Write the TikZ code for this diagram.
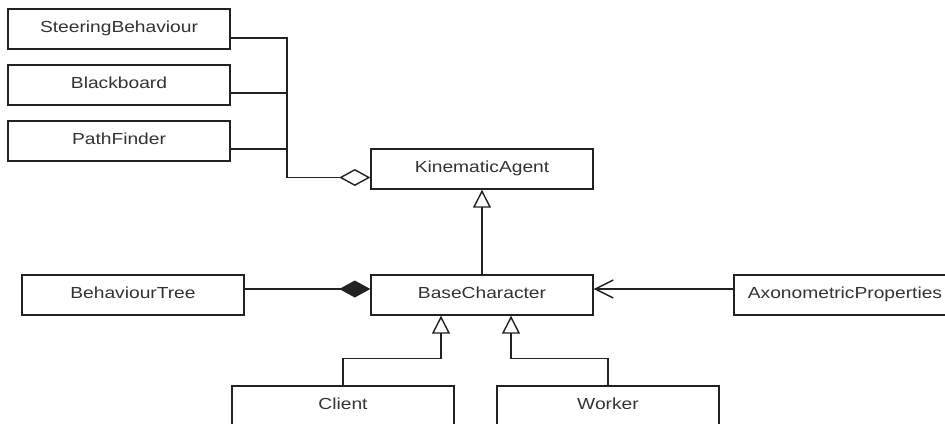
\documentclass[tikz,border=0pt]{standalone}
\usepackage{fontspec}
\setmainfont{Liberation Sans}[FakeStretch=1.2]
\usetikzlibrary{arrows.meta}
\definecolor{umlline}{HTML}{222222}
\definecolor{umltext}{HTML}{333333}
\tikzset{
  cls/.style={draw=umlline, line width=1.4pt, fill=white, rectangle,
    minimum width=222pt, minimum height=40pt, inner sep=0pt,
    text height=10pt, text depth=4pt, text=umltext,
    font=\fontsize{16pt}{18pt}\selectfont},
  conn/.style={draw=umlline, line width=1.4pt},
  aggr/.style={conn, -{Diamond[open, length=31pt, width=17pt, line width=1.4pt]}},
  comp/.style={conn, -{Diamond[length=31pt, width=17pt]}},
  gen/.style={conn, -{Triangle[open, length=18pt, width=18pt, line width=1.4pt]}},
  nav/.style={conn, -{Straight Barb[length=18pt, width=18pt, line width=1.4pt]}}
}
\begin{document}
\begin{tikzpicture}[x=1pt, y=-1pt]
  \useasboundingbox (0,0) rectangle (945,423);
  \clip (0,0) rectangle (945,423);
  \fill[white] (0,0) rectangle (945,423);

  % classes
  \node[cls] (sb) at (119,29)  {SteeringBehaviour};
  \node[cls] (bb) at (119,85)  {Blackboard};
  \node[cls] (pf) at (119,141) {PathFinder};
  \node[cls] (ka) at (482,169) {KinematicAgent};
  \node[cls] (bt) at (133,295) {BehaviourTree};
  \node[cls] (bc) at (482,295) {BaseCharacter};
  \node[cls] (ax) at (845,295) {AxonometricProperties};
  \node[cls] (cl) at (343,406) {Client};
  \node[cls] (wk) at (608,406) {Worker};

  % aggregation bus into KinematicAgent
  \coordinate (bus) at (287,177.5);
  \draw[conn] ([yshift=-9pt]sb.east) -| (bus);
  \draw[conn] ([yshift=-8pt]bb.east) -| (bus);
  \draw[conn] ([yshift=-8pt]pf.east) -| (bus);
  \draw[aggr] (bus) -- ([yshift=-8.5pt]ka.west);

  % inheritance
  \draw[gen] (bc.north) -- (ka.south);
  \draw[gen] (cl.north) -- ++(0,-27) -| ([xshift=-41pt]bc.south);
  \draw[gen] (wk.north) -- ++(0,-27) -| ([xshift=29pt]bc.south);

  % composition and navigable association
  \draw[comp] ([yshift=6pt]bt.east) -- ([yshift=6pt]bc.west);
  \draw[nav] ([yshift=6pt]ax.west) -- ([yshift=6pt]bc.east);
\end{tikzpicture}
\end{document}
